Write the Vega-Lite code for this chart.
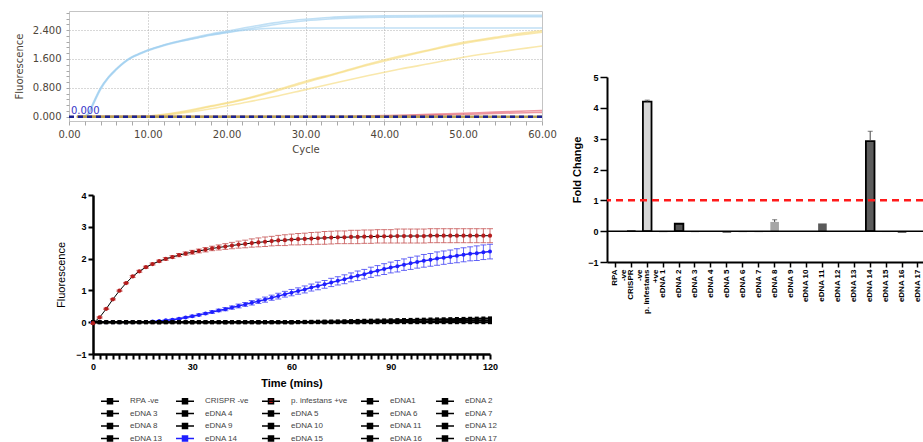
{
"$schema": "https://vega.github.io/schema/vega-lite/v6.json",
"padding": {"left": 13, "top": 7, "right": 0, "bottom": 0},
"config": {"font": "Liberation Sans", "view": {"stroke": null}, "axis": {"domainColor": "black", "tickColor": "black", "labelColor": "black", "titleColor": "black", "grid": false}},
"datasets": {
"qpcr": [
{"g":"pos","r":"b1","c":1,"v":0},{"g":"pos","r":"b1","c":2,"v":0.02},{"g":"pos","r":"b1","c":2.5,"v":0.1},{"g":"pos","r":"b1","c":3,"v":0.35},{"g":"pos","r":"b1","c":4,"v":0.8},{"g":"pos","r":"b1","c":5,"v":1.1},{"g":"pos","r":"b1","c":6,"v":1.33},{"g":"pos","r":"b1","c":7,"v":1.52},{"g":"pos","r":"b1","c":8,"v":1.66},{"g":"pos","r":"b1","c":9,"v":1.76},{"g":"pos","r":"b1","c":10,"v":1.85},{"g":"pos","r":"b1","c":12,"v":1.99},{"g":"pos","r":"b1","c":14,"v":2.1},{"g":"pos","r":"b1","c":16,"v":2.2},{"g":"pos","r":"b1","c":18,"v":2.29},{"g":"pos","r":"b1","c":20,"v":2.37},{"g":"pos","r":"b1","c":22,"v":2.45},{"g":"pos","r":"b1","c":24,"v":2.53},{"g":"pos","r":"b1","c":26,"v":2.6},{"g":"pos","r":"b1","c":28,"v":2.66},{"g":"pos","r":"b1","c":30,"v":2.7},{"g":"pos","r":"b1","c":33,"v":2.75},{"g":"pos","r":"b1","c":36,"v":2.78},{"g":"pos","r":"b1","c":40,"v":2.8},{"g":"pos","r":"b1","c":50,"v":2.81},{"g":"pos","r":"b1","c":60,"v":2.81},
{"g":"pos","r":"b2","c":1,"v":0},{"g":"pos","r":"b2","c":2,"v":0.02},{"g":"pos","r":"b2","c":2.5,"v":0.08},{"g":"pos","r":"b2","c":3,"v":0.3},{"g":"pos","r":"b2","c":4,"v":0.75},{"g":"pos","r":"b2","c":5,"v":1.07},{"g":"pos","r":"b2","c":6,"v":1.3},{"g":"pos","r":"b2","c":7,"v":1.5},{"g":"pos","r":"b2","c":8,"v":1.65},{"g":"pos","r":"b2","c":9,"v":1.75},{"g":"pos","r":"b2","c":10,"v":1.84},{"g":"pos","r":"b2","c":12,"v":1.98},{"g":"pos","r":"b2","c":14,"v":2.09},{"g":"pos","r":"b2","c":16,"v":2.18},{"g":"pos","r":"b2","c":18,"v":2.27},{"g":"pos","r":"b2","c":20,"v":2.34},{"g":"pos","r":"b2","c":22,"v":2.41},{"g":"pos","r":"b2","c":24,"v":2.48},{"g":"pos","r":"b2","c":26,"v":2.55},{"g":"pos","r":"b2","c":28,"v":2.61},{"g":"pos","r":"b2","c":30,"v":2.66},{"g":"pos","r":"b2","c":33,"v":2.71},{"g":"pos","r":"b2","c":36,"v":2.74},{"g":"pos","r":"b2","c":40,"v":2.76},{"g":"pos","r":"b2","c":50,"v":2.77},{"g":"pos","r":"b2","c":60,"v":2.77},
{"g":"pos","r":"b3","c":1,"v":0},{"g":"pos","r":"b3","c":2,"v":0.02},{"g":"pos","r":"b3","c":2.5,"v":0.09},{"g":"pos","r":"b3","c":3,"v":0.33},{"g":"pos","r":"b3","c":4,"v":0.78},{"g":"pos","r":"b3","c":5,"v":1.09},{"g":"pos","r":"b3","c":6,"v":1.32},{"g":"pos","r":"b3","c":7,"v":1.5},{"g":"pos","r":"b3","c":8,"v":1.64},{"g":"pos","r":"b3","c":9,"v":1.74},{"g":"pos","r":"b3","c":10,"v":1.83},{"g":"pos","r":"b3","c":12,"v":1.97},{"g":"pos","r":"b3","c":14,"v":2.08},{"g":"pos","r":"b3","c":16,"v":2.17},{"g":"pos","r":"b3","c":18,"v":2.26},{"g":"pos","r":"b3","c":20,"v":2.33},{"g":"pos","r":"b3","c":22,"v":2.39},{"g":"pos","r":"b3","c":24,"v":2.43},{"g":"pos","r":"b3","c":26,"v":2.45},{"g":"pos","r":"b3","c":30,"v":2.46},{"g":"pos","r":"b3","c":40,"v":2.46},{"g":"pos","r":"b3","c":60,"v":2.46},
{"g":"sample","r":"y1","c":1,"v":0},{"g":"sample","r":"y1","c":8,"v":0},{"g":"sample","r":"y1","c":10,"v":0.02},{"g":"sample","r":"y1","c":14,"v":0.13},{"g":"sample","r":"y1","c":18,"v":0.3},{"g":"sample","r":"y1","c":22,"v":0.48},{"g":"sample","r":"y1","c":26,"v":0.72},{"g":"sample","r":"y1","c":30,"v":0.98},{"g":"sample","r":"y1","c":34,"v":1.21},{"g":"sample","r":"y1","c":38,"v":1.46},{"g":"sample","r":"y1","c":42,"v":1.68},{"g":"sample","r":"y1","c":46,"v":1.87},{"g":"sample","r":"y1","c":50,"v":2.06},{"g":"sample","r":"y1","c":54,"v":2.2},{"g":"sample","r":"y1","c":58,"v":2.33},{"g":"sample","r":"y1","c":60,"v":2.38},
{"g":"sample","r":"y2","c":1,"v":0},{"g":"sample","r":"y2","c":8,"v":0},{"g":"sample","r":"y2","c":10,"v":0.02},{"g":"sample","r":"y2","c":14,"v":0.11},{"g":"sample","r":"y2","c":18,"v":0.28},{"g":"sample","r":"y2","c":22,"v":0.46},{"g":"sample","r":"y2","c":26,"v":0.69},{"g":"sample","r":"y2","c":30,"v":0.95},{"g":"sample","r":"y2","c":34,"v":1.19},{"g":"sample","r":"y2","c":38,"v":1.43},{"g":"sample","r":"y2","c":42,"v":1.65},{"g":"sample","r":"y2","c":46,"v":1.85},{"g":"sample","r":"y2","c":50,"v":2.03},{"g":"sample","r":"y2","c":54,"v":2.17},{"g":"sample","r":"y2","c":58,"v":2.29},{"g":"sample","r":"y2","c":60,"v":2.34},
{"g":"sample","r":"y3","c":1,"v":0},{"g":"sample","r":"y3","c":10,"v":0},{"g":"sample","r":"y3","c":14,"v":0.09},{"g":"sample","r":"y3","c":18,"v":0.22},{"g":"sample","r":"y3","c":22,"v":0.38},{"g":"sample","r":"y3","c":26,"v":0.55},{"g":"sample","r":"y3","c":30,"v":0.75},{"g":"sample","r":"y3","c":34,"v":0.95},{"g":"sample","r":"y3","c":38,"v":1.14},{"g":"sample","r":"y3","c":42,"v":1.32},{"g":"sample","r":"y3","c":46,"v":1.48},{"g":"sample","r":"y3","c":50,"v":1.65},{"g":"sample","r":"y3","c":54,"v":1.78},{"g":"sample","r":"y3","c":58,"v":1.9},{"g":"sample","r":"y3","c":60,"v":1.96},
{"g":"late","r":"r1","c":1,"v":0},{"g":"late","r":"r1","c":34,"v":0},{"g":"late","r":"r1","c":36,"v":0.01},{"g":"late","r":"r1","c":40,"v":0.03},{"g":"late","r":"r1","c":44,"v":0.05},{"g":"late","r":"r1","c":48,"v":0.08},{"g":"late","r":"r1","c":52,"v":0.11},{"g":"late","r":"r1","c":56,"v":0.14},{"g":"late","r":"r1","c":60,"v":0.17},
{"g":"late","r":"r2","c":1,"v":0},{"g":"late","r":"r2","c":38,"v":0},{"g":"late","r":"r2","c":42,"v":0.02},{"g":"late","r":"r2","c":46,"v":0.04},{"g":"late","r":"r2","c":50,"v":0.06},{"g":"late","r":"r2","c":54,"v":0.09},{"g":"late","r":"r2","c":58,"v":0.11},{"g":"late","r":"r2","c":60,"v":0.12}
],
"pinf": [
{"t":0,"y":-0.03,"e":0.02},{"t":2,"y":0.15,"e":0.02},{"t":4,"y":0.42,"e":0.02},{"t":6,"y":0.72,"e":0.02},{"t":8,"y":0.99,"e":0.02},{"t":10,"y":1.23,"e":0.02},{"t":12,"y":1.44,"e":0.03},{"t":14,"y":1.6,"e":0.03},{"t":16,"y":1.73,"e":0.03},{"t":18,"y":1.83,"e":0.03},{"t":20,"y":1.92,"e":0.03},{"t":22,"y":1.99,"e":0.04},{"t":24,"y":2.05,"e":0.04},{"t":26,"y":2.11,"e":0.05},{"t":28,"y":2.16,"e":0.05},{"t":30,"y":2.2,"e":0.06},{"t":32,"y":2.24,"e":0.06},{"t":34,"y":2.28,"e":0.07},{"t":36,"y":2.32,"e":0.07},{"t":38,"y":2.35,"e":0.08},{"t":40,"y":2.38,"e":0.09},{"t":42,"y":2.41,"e":0.1},{"t":44,"y":2.44,"e":0.11},{"t":46,"y":2.46,"e":0.12},{"t":48,"y":2.49,"e":0.13},{"t":50,"y":2.51,"e":0.14},{"t":52,"y":2.53,"e":0.15},{"t":54,"y":2.55,"e":0.15},{"t":56,"y":2.57,"e":0.16},{"t":58,"y":2.58,"e":0.17},{"t":60,"y":2.6,"e":0.17},{"t":62,"y":2.61,"e":0.18},{"t":64,"y":2.62,"e":0.18},{"t":66,"y":2.63,"e":0.19},{"t":68,"y":2.64,"e":0.19},{"t":70,"y":2.65,"e":0.2},{"t":72,"y":2.66,"e":0.2},{"t":74,"y":2.67,"e":0.2},{"t":76,"y":2.67,"e":0.2},{"t":78,"y":2.68,"e":0.21},{"t":80,"y":2.68,"e":0.21},{"t":82,"y":2.69,"e":0.21},{"t":84,"y":2.69,"e":0.21},{"t":86,"y":2.7,"e":0.21},{"t":88,"y":2.7,"e":0.21},{"t":90,"y":2.7,"e":0.21},{"t":92,"y":2.71,"e":0.22},{"t":94,"y":2.71,"e":0.22},{"t":96,"y":2.71,"e":0.22},{"t":98,"y":2.71,"e":0.22},{"t":100,"y":2.71,"e":0.22},{"t":102,"y":2.72,"e":0.22},{"t":104,"y":2.72,"e":0.22},{"t":106,"y":2.72,"e":0.22},{"t":108,"y":2.72,"e":0.22},{"t":110,"y":2.72,"e":0.22},{"t":112,"y":2.72,"e":0.22},{"t":114,"y":2.72,"e":0.22},{"t":116,"y":2.72,"e":0.22},{"t":118,"y":2.72,"e":0.22},{"t":120,"y":2.72,"e":0.22}
],
"e14": [
{"t":0,"y":0,"e":0},{"t":2,"y":0,"e":0},{"t":4,"y":0,"e":0},{"t":6,"y":0,"e":0},{"t":8,"y":0,"e":0},{"t":10,"y":0,"e":0},{"t":12,"y":0,"e":0},{"t":14,"y":0,"e":0},{"t":16,"y":0.01,"e":0.01},{"t":18,"y":0.02,"e":0.01},{"t":20,"y":0.04,"e":0.01},{"t":22,"y":0.06,"e":0.01},{"t":24,"y":0.08,"e":0.02},{"t":26,"y":0.11,"e":0.02},{"t":28,"y":0.15,"e":0.02},{"t":30,"y":0.19,"e":0.03},{"t":32,"y":0.23,"e":0.03},{"t":34,"y":0.27,"e":0.03},{"t":36,"y":0.32,"e":0.04},{"t":38,"y":0.37,"e":0.04},{"t":40,"y":0.41,"e":0.05},{"t":42,"y":0.46,"e":0.05},{"t":44,"y":0.51,"e":0.06},{"t":46,"y":0.56,"e":0.06},{"t":48,"y":0.61,"e":0.07},{"t":50,"y":0.66,"e":0.07},{"t":52,"y":0.71,"e":0.08},{"t":54,"y":0.77,"e":0.08},{"t":56,"y":0.82,"e":0.09},{"t":58,"y":0.88,"e":0.09},{"t":60,"y":0.93,"e":0.1},{"t":62,"y":0.98,"e":0.1},{"t":64,"y":1.03,"e":0.11},{"t":66,"y":1.09,"e":0.11},{"t":68,"y":1.14,"e":0.12},{"t":70,"y":1.19,"e":0.12},{"t":72,"y":1.25,"e":0.13},{"t":74,"y":1.3,"e":0.13},{"t":76,"y":1.35,"e":0.14},{"t":78,"y":1.41,"e":0.14},{"t":80,"y":1.46,"e":0.15},{"t":82,"y":1.51,"e":0.15},{"t":84,"y":1.57,"e":0.16},{"t":86,"y":1.62,"e":0.16},{"t":88,"y":1.67,"e":0.17},{"t":90,"y":1.72,"e":0.17},{"t":92,"y":1.76,"e":0.18},{"t":94,"y":1.81,"e":0.18},{"t":96,"y":1.85,"e":0.19},{"t":98,"y":1.89,"e":0.19},{"t":100,"y":1.93,"e":0.2},{"t":102,"y":1.96,"e":0.2},{"t":104,"y":2.0,"e":0.21},{"t":106,"y":2.03,"e":0.21},{"t":108,"y":2.06,"e":0.21},{"t":110,"y":2.09,"e":0.22},{"t":112,"y":2.12,"e":0.22},{"t":114,"y":2.15,"e":0.22},{"t":116,"y":2.17,"e":0.23},{"t":118,"y":2.2,"e":0.23},{"t":120,"y":2.22,"e":0.23}
],
"neg": [
{"s":"RPA -ve","t":0,"y":0},{"s":"RPA -ve","t":2,"y":0},{"s":"RPA -ve","t":4,"y":0},{"s":"RPA -ve","t":6,"y":0},{"s":"RPA -ve","t":8,"y":0},{"s":"RPA -ve","t":10,"y":0},{"s":"RPA -ve","t":12,"y":0},{"s":"RPA -ve","t":14,"y":0},{"s":"RPA -ve","t":16,"y":0},{"s":"RPA -ve","t":18,"y":0},{"s":"RPA -ve","t":20,"y":0},{"s":"RPA -ve","t":22,"y":0},{"s":"RPA -ve","t":24,"y":0},{"s":"RPA -ve","t":26,"y":0},{"s":"RPA -ve","t":28,"y":0},{"s":"RPA -ve","t":30,"y":0},{"s":"RPA -ve","t":32,"y":0},{"s":"RPA -ve","t":34,"y":0},{"s":"RPA -ve","t":36,"y":0},{"s":"RPA -ve","t":38,"y":0},{"s":"RPA -ve","t":40,"y":0},{"s":"RPA -ve","t":42,"y":0},{"s":"RPA -ve","t":44,"y":0},{"s":"RPA -ve","t":46,"y":0},{"s":"RPA -ve","t":48,"y":0},{"s":"RPA -ve","t":50,"y":0},{"s":"RPA -ve","t":52,"y":0},{"s":"RPA -ve","t":54,"y":0},{"s":"RPA -ve","t":56,"y":0},{"s":"RPA -ve","t":58,"y":0},{"s":"RPA -ve","t":60,"y":0},{"s":"RPA -ve","t":62,"y":0},{"s":"RPA -ve","t":64,"y":0},{"s":"RPA -ve","t":66,"y":0},{"s":"RPA -ve","t":68,"y":0},{"s":"RPA -ve","t":70,"y":0},{"s":"RPA -ve","t":72,"y":0},{"s":"RPA -ve","t":74,"y":0},{"s":"RPA -ve","t":76,"y":0},{"s":"RPA -ve","t":78,"y":0},{"s":"RPA -ve","t":80,"y":0},{"s":"RPA -ve","t":82,"y":0},{"s":"RPA -ve","t":84,"y":0},{"s":"RPA -ve","t":86,"y":0},{"s":"RPA -ve","t":88,"y":0},{"s":"RPA -ve","t":90,"y":0},{"s":"RPA -ve","t":92,"y":0},{"s":"RPA -ve","t":94,"y":0},{"s":"RPA -ve","t":96,"y":0},{"s":"RPA -ve","t":98,"y":0},{"s":"RPA -ve","t":100,"y":0},{"s":"RPA -ve","t":102,"y":0},{"s":"RPA -ve","t":104,"y":0},{"s":"RPA -ve","t":106,"y":0},{"s":"RPA -ve","t":108,"y":0},{"s":"RPA -ve","t":110,"y":0},{"s":"RPA -ve","t":112,"y":0},{"s":"RPA -ve","t":114,"y":0},{"s":"RPA -ve","t":116,"y":0},{"s":"RPA -ve","t":118,"y":0},{"s":"RPA -ve","t":120,"y":0},
{"s":"eDNA 16","t":0,"y":0},{"s":"eDNA 16","t":2,"y":0},{"s":"eDNA 16","t":4,"y":0},{"s":"eDNA 16","t":6,"y":0},{"s":"eDNA 16","t":8,"y":0},{"s":"eDNA 16","t":10,"y":0},{"s":"eDNA 16","t":12,"y":0},{"s":"eDNA 16","t":14,"y":0},{"s":"eDNA 16","t":16,"y":0},{"s":"eDNA 16","t":18,"y":0},{"s":"eDNA 16","t":20,"y":0},{"s":"eDNA 16","t":22,"y":0},{"s":"eDNA 16","t":24,"y":0},{"s":"eDNA 16","t":26,"y":0},{"s":"eDNA 16","t":28,"y":0},{"s":"eDNA 16","t":30,"y":0},{"s":"eDNA 16","t":32,"y":0},{"s":"eDNA 16","t":34,"y":0},{"s":"eDNA 16","t":36,"y":0},{"s":"eDNA 16","t":38,"y":0},{"s":"eDNA 16","t":40,"y":0},{"s":"eDNA 16","t":42,"y":0},{"s":"eDNA 16","t":44,"y":0},{"s":"eDNA 16","t":46,"y":0},{"s":"eDNA 16","t":48,"y":0},{"s":"eDNA 16","t":50,"y":0},{"s":"eDNA 16","t":52,"y":0},{"s":"eDNA 16","t":54,"y":0},{"s":"eDNA 16","t":56,"y":0},{"s":"eDNA 16","t":58,"y":0},{"s":"eDNA 16","t":60,"y":0},{"s":"eDNA 16","t":62,"y":0.005},{"s":"eDNA 16","t":64,"y":0.01},{"s":"eDNA 16","t":66,"y":0.012},{"s":"eDNA 16","t":68,"y":0.015},{"s":"eDNA 16","t":70,"y":0.02},{"s":"eDNA 16","t":72,"y":0.022},{"s":"eDNA 16","t":74,"y":0.025},{"s":"eDNA 16","t":76,"y":0.03},{"s":"eDNA 16","t":78,"y":0.035},{"s":"eDNA 16","t":80,"y":0.04},{"s":"eDNA 16","t":82,"y":0.045},{"s":"eDNA 16","t":84,"y":0.048},{"s":"eDNA 16","t":86,"y":0.052},{"s":"eDNA 16","t":88,"y":0.056},{"s":"eDNA 16","t":90,"y":0.06},{"s":"eDNA 16","t":92,"y":0.065},{"s":"eDNA 16","t":94,"y":0.068},{"s":"eDNA 16","t":96,"y":0.072},{"s":"eDNA 16","t":98,"y":0.076},{"s":"eDNA 16","t":100,"y":0.08},{"s":"eDNA 16","t":102,"y":0.085},{"s":"eDNA 16","t":104,"y":0.088},{"s":"eDNA 16","t":106,"y":0.092},{"s":"eDNA 16","t":108,"y":0.096},{"s":"eDNA 16","t":110,"y":0.1},{"s":"eDNA 16","t":112,"y":0.104},{"s":"eDNA 16","t":114,"y":0.108},{"s":"eDNA 16","t":116,"y":0.112},{"s":"eDNA 16","t":118,"y":0.116},{"s":"eDNA 16","t":120,"y":0.12},
{"s":"eDNA 5","t":0,"y":0},{"s":"eDNA 5","t":10,"y":0},{"s":"eDNA 5","t":20,"y":0},{"s":"eDNA 5","t":30,"y":0},{"s":"eDNA 5","t":40,"y":0},{"s":"eDNA 5","t":50,"y":0},{"s":"eDNA 5","t":60,"y":0},{"s":"eDNA 5","t":70,"y":0},{"s":"eDNA 5","t":80,"y":0},{"s":"eDNA 5","t":84,"y":0.004},{"s":"eDNA 5","t":88,"y":0.008},{"s":"eDNA 5","t":92,"y":0.013},{"s":"eDNA 5","t":96,"y":0.019},{"s":"eDNA 5","t":100,"y":0.025},{"s":"eDNA 5","t":104,"y":0.031},{"s":"eDNA 5","t":108,"y":0.037},{"s":"eDNA 5","t":112,"y":0.043},{"s":"eDNA 5","t":116,"y":0.05},{"s":"eDNA 5","t":120,"y":0.056}
],
"fold": [
{"k":"RPA -ve","v":0},{"k":"CRISPR -ve","v":0.03},{"k":"p. infestans +ve","v":4.2,"hi":4.25},{"k":"eDNA 1","v":-0.03},{"k":"eDNA 2","v":0.24},{"k":"eDNA 3","v":-0.03},{"k":"eDNA 4","v":-0.01},{"k":"eDNA 5","v":-0.05},{"k":"eDNA 6","v":-0.03},{"k":"eDNA 7","v":-0.03},{"k":"eDNA 8","v":0.3,"hi":0.37},{"k":"eDNA 9","v":-0.02},{"k":"eDNA 10","v":-0.02},{"k":"eDNA 11","v":0.25},{"k":"eDNA 12","v":-0.02},{"k":"eDNA 13","v":-0.02},{"k":"eDNA 14","v":2.92,"hi":3.24},{"k":"eDNA 15","v":-0.03},{"k":"eDNA 16","v":-0.05},{"k":"eDNA 17","v":-0.02}
]
},
"columns": 2,
"spacing": 14,
"concat": [
{
"columns": 1,
"spacing": 36,
"concat": [
{
"width": 473, "height": 110,
"view": {"stroke": "#c4c4c4", "strokeWidth": 1},
"layer": [
{"data": {"name": "qpcr"},
 "mark": {"type": "line", "strokeWidth": 1.6, "opacity": 0.65, "interpolate": "monotone"},
 "encoding": {
  "x": {"field": "c", "type": "quantitative", "scale": {"domain": [0, 60], "nice": false},
   "axis": {"values": [0,2,4,6,8,10,12,14,16,18,20,22,24,26,28,30,32,34,36,38,40,42,44,46,48,50,52,54,56,58,60], "tickCount": 500,
    "labelExpr": "datum.value % 10 == 0 ? format(datum.value, '.2f') : ''",
    "labelOverlap": false, "labelFlush": false, "title": "Cycle",
    "grid": true, "gridDash": [1, 2], "gridColor": "#b0b0b0",
    "gridOpacity": {"condition": {"test": "datum.value % 10 == 0 && datum.value > 0 && datum.value < 60", "value": 1}, "value": 0},
    "domain": false, "tickSize": 4, "tickColor": "#a8a8a8",
    "labelFont": "DejaVu Sans", "labelFontSize": 10, "labelColor": "#4d4539", "labelPadding": 4,
    "titleFont": "DejaVu Sans", "titleFontSize": 10, "titleFontWeight": "normal", "titleColor": "#4d4539", "titlePadding": 5}},
  "y": {"field": "v", "type": "quantitative", "scale": {"domain": [-0.12, 2.93], "nice": false, "zero": false},
   "axis": {"values": [0,0.16,0.32,0.48,0.64,0.8,0.96,1.12,1.28,1.44,1.6,1.76,1.92,2.08,2.24,2.4,2.56,2.72,2.88], "tickCount": 500,
    "labelExpr": "abs(datum.value/0.8 - round(datum.value/0.8)) < 0.001 ? format(datum.value, '.3f') : ''",
    "labelOverlap": false, "labelFlush": false, "title": "Fluorescence",
    "grid": true, "gridDash": [1, 2], "gridColor": "#b0b0b0",
    "gridOpacity": {"condition": {"test": "abs(datum.value/0.8 - round(datum.value/0.8)) < 0.001 && datum.value > 0", "value": 1}, "value": 0},
    "domain": false, "tickSize": 3, "tickColor": "#a8a8a8",
    "labelFont": "DejaVu Sans", "labelFontSize": 10, "labelColor": "#4d4539", "labelPadding": 5,
    "titleFont": "DejaVu Sans", "titleFontSize": 10, "titleFontWeight": "normal", "titleColor": "#4d4539", "titlePadding": 8}},
  "stroke": {"field": "g", "type": "nominal", "scale": {"domain": ["pos", "sample", "late"], "range": ["#9fd0ef", "#f6dc80", "#e4606e"]}, "legend": null},
  "detail": {"field": "r"}
 }},
{"data": {"values": [{"c": 1, "v": 0}, {"c": 60, "v": 0}]},
 "mark": {"type": "line", "color": "#b5a055", "strokeWidth": 2.5},
 "encoding": {"x": {"field": "c", "type": "quantitative"}, "y": {"field": "v", "type": "quantitative"}}},
{"data": {"values": [{"c": 0, "v": 0}, {"c": 60, "v": 0}]},
 "mark": {"type": "line", "color": "#1c2390", "strokeWidth": 2.5, "strokeDash": [5, 4]},
 "encoding": {"x": {"field": "c", "type": "quantitative"}, "y": {"field": "v", "type": "quantitative"}}},
{"data": {"values": [{"c": 0.25, "v": 0, "label": "0.000"}]},
 "mark": {"type": "text", "align": "left", "baseline": "bottom", "dy": -1, "font": "DejaVu Sans", "fontSize": 10, "color": "#3636c8"},
 "encoding": {"x": {"field": "c", "type": "quantitative"}, "y": {"field": "v", "type": "quantitative"}, "text": {"field": "label"}}}
]
},
{
"width": 421, "height": 159,
"layer": [
{"data": {"name": "pinf"},
 "mark": {"type": "errorbar", "color": "#c85a5a", "opacity": 0.85, "ticks": {"size": 6, "color": "#c85a5a"}},
 "encoding": {
  "x": {"field": "t", "type": "quantitative", "title": "Time (mins)", "scale": {"domain": [0, 120], "range": [24, 421], "nice": false},
   "axis": {"values": [0,2,4,6,8,10,12,14,16,18,20,22,24,26,28,30,32,34,36,38,40,42,44,46,48,50,52,54,56,58,60,62,64,66,68,70,72,74,76,78,80,82,84,86,88,90,92,94,96,98,100,102,104,106,108,110,112,114,116,118,120], "tickCount": 500,
    "labelExpr": "datum.value % 30 == 0 ? format(datum.value, 'd') : ''", "labelOverlap": false, "labelFlush": false,
    "tickSize": 5, "tickWidth": 2, "domainWidth": 2.5,
    "labelFontWeight": "bold", "labelFontSize": 9, "labelPadding": 3,
    "titleFontSize": 11, "titleFontWeight": "bold", "titlePadding": 6}},
  "y": {"field": "y", "type": "quantitative", "title": "Fluorescence", "scale": {"domain": [-1, 4], "nice": false, "zero": false},
   "axis": {"values": [-1, 0, 1, 2, 3, 4], "tickCount": 500, "format": "d", "offset": -24, "labelOverlap": false,
    "tickSize": 5, "tickWidth": 2, "domainWidth": 2.5, "labelFontWeight": "bold", "labelFontSize": 9, "labelPadding": 2,
    "titleFontSize": 11, "titleFontWeight": "normal", "titlePadding": 9}},
  "yError": {"field": "e"}
 }},
{"data": {"name": "e14"},
 "mark": {"type": "errorbar", "color": "#4a4af5", "opacity": 0.85, "ticks": {"size": 6, "color": "#4a4af5"}},
 "encoding": {"x": {"field": "t", "type": "quantitative", "title": "Time (mins)"}, "y": {"field": "y", "type": "quantitative", "title": "Fluorescence"}, "yError": {"field": "e"}}},
{"data": {"name": "e14"},
 "mark": {"type": "line", "color": "#1f1fff", "strokeWidth": 1.5},
 "encoding": {"x": {"field": "t", "type": "quantitative", "title": "Time (mins)"}, "y": {"field": "y", "type": "quantitative", "title": "Fluorescence"}}},
{"data": {"name": "e14"},
 "mark": {"type": "point", "filled": true, "size": 16, "opacity": 1, "shape": "circle"},
 "encoding": {"x": {"field": "t", "type": "quantitative", "title": "Time (mins)"}, "y": {"field": "y", "type": "quantitative", "title": "Fluorescence"},
  "color": {"datum": "eDNA 14",
   "scale": {"domain": ["RPA -ve", "CRISPR -ve", "p. infestans +ve", "eDNA1", "eDNA 2", "eDNA 3", "eDNA 4", "eDNA 5", "eDNA 6", "eDNA 7", "eDNA 8", "eDNA 9", "eDNA 10", "eDNA 11", "eDNA 12", "eDNA 13", "eDNA 14", "eDNA 15", "eDNA 16", "eDNA 17"],
    "range": ["#000000", "#000000", "#b51c1c", "#000000", "#000000", "#000000", "#000000", "#000000", "#000000", "#000000", "#000000", "#000000", "#000000", "#000000", "#000000", "#000000", "#1f1fff", "#000000", "#000000", "#000000"]},
   "legend": {"orient": "none", "direction": "horizontal", "legendX": 35, "legendY": 384, "columns": 5, "title": null, "padding": 0,
    "symbolType": "M-1.8,0H1.8M-0.5,-0.5H0.5V0.5H-0.5Z", "symbolSize": 100, "symbolStrokeWidth": 1.5, "symbolOpacity": 1,
    "labelFont": "Liberation Sans", "labelFontSize": 8, "labelColor": "#444444", "labelOffset": 14, "labelLimit": 120,
    "rowPadding": 0.5, "columnPadding": 10, "gridAlign": "each",
    "encode": {"symbols": {"update": {"stroke": {"signal": "datum.value === 'eDNA 14' ? '#1f1fff' : 'black'"}, "strokeWidth": {"value": 1.5}}}}}
  }}},
{"data": {"name": "neg"},
 "mark": {"type": "line", "color": "black", "strokeWidth": 2},
 "encoding": {"x": {"field": "t", "type": "quantitative", "title": "Time (mins)"}, "y": {"field": "y", "type": "quantitative", "title": "Fluorescence"}, "detail": {"field": "s"}}},
{"data": {"name": "neg"},
 "mark": {"type": "point", "filled": true, "size": 16, "opacity": 1, "shape": "square", "color": "black"},
 "encoding": {"x": {"field": "t", "type": "quantitative", "title": "Time (mins)"}, "y": {"field": "y", "type": "quantitative", "title": "Fluorescence"}}},
{"data": {"name": "pinf"},
 "mark": {"type": "line", "color": "black", "strokeWidth": 1},
 "encoding": {"x": {"field": "t", "type": "quantitative", "title": "Time (mins)"}, "y": {"field": "y", "type": "quantitative", "title": "Fluorescence"}}},
{"data": {"name": "pinf"},
 "mark": {"type": "point", "filled": true, "size": 18, "opacity": 1, "shape": "circle"},
 "encoding": {"x": {"field": "t", "type": "quantitative", "title": "Time (mins)"}, "y": {"field": "y", "type": "quantitative", "title": "Fluorescence"}, "color": {"datum": "p. infestans +ve"}}}
]
}
]
},
{
"width": 316, "height": 251,
"data": {"name": "fold"},
"layer": [
{"mark": {"type": "bar", "stroke": "black"},
 "encoding": {
  "x": {"field": "k", "type": "nominal", "sort": null,
   "scale": {"domain": ["RPA -ve", "CRISPR -ve", "p. infestans +ve", "eDNA 1", "eDNA 2", "eDNA 3", "eDNA 4", "eDNA 5", "eDNA 6", "eDNA 7", "eDNA 8", "eDNA 9", "eDNA 10", "eDNA 11", "eDNA 12", "eDNA 13", "eDNA 14", "eDNA 15", "eDNA 16", "eDNA 17"], "paddingInner": 0.46, "paddingOuter": 0.15, "align": 0.85},
   "axis": {"title": null, "labelAngle": 270, "labelFontSize": 8, "labelFontWeight": "bold", "labelPadding": 2,
    "tickSize": 5, "tickWidth": 1.5, "domainWidth": 2, "labelLimit": 0, "labelLineHeight": 9,
    "labelExpr": "indexof(datum.label, 'eDNA') == 0 ? datum.label : [slice(datum.label, 0, -4), slice(datum.label, -3)]"}},
  "y": {"field": "v", "type": "quantitative", "scale": {"domain": [-1, 5], "range": [251, 66], "nice": false, "zero": false},
   "axis": {"values": [-1, 0, 1, 2, 3, 4, 5], "tickCount": 500, "format": "d", "title": "Fold Change", "titleFontSize": 11, "titleFontWeight": "bold", "titlePadding": 5,
    "labelFontSize": 9, "labelFontWeight": "bold", "labelPadding": 2, "tickSize": 7, "tickWidth": 1.5, "domainWidth": 2}},
  "fill": {"field": "k", "type": "nominal",
   "scale": {"domain": ["RPA -ve", "CRISPR -ve", "p. infestans +ve", "eDNA 1", "eDNA 2", "eDNA 3", "eDNA 4", "eDNA 5", "eDNA 6", "eDNA 7", "eDNA 8", "eDNA 9", "eDNA 10", "eDNA 11", "eDNA 12", "eDNA 13", "eDNA 14", "eDNA 15", "eDNA 16", "eDNA 17"],
    "range": ["#333333", "#333333", "#d6d6d6", "#333333", "#555555", "#333333", "#888888", "#444444", "#444444", "#444444", "#a6a6a6", "#777777", "#cccccc", "#5a5a5a", "#444444", "#444444", "#5c5c5c", "#bbbbbb", "#333333", "#444444"]},
   "legend": null},
  "strokeWidth": {"condition": {"test": "indexof(['p. infestans +ve', 'eDNA 2', 'eDNA 14'], datum.k) >= 0", "value": 1.8}, "value": 0}
 }},
{"transform": [{"filter": "isValid(datum.hi)"}],
 "mark": {"type": "rule", "color": "#444444", "strokeWidth": 1},
 "encoding": {"x": {"field": "k", "type": "nominal", "sort": null}, "y": {"field": "v", "type": "quantitative"}, "y2": {"field": "hi"}}},
{"transform": [{"filter": "isValid(datum.hi)"}],
 "mark": {"type": "tick", "color": "#444444", "thickness": 1, "size": 5},
 "encoding": {"x": {"field": "k", "type": "nominal", "sort": null}, "y": {"field": "hi", "type": "quantitative"}}},
{"data": {"values": [{"base": 0}]},
 "mark": {"type": "rule", "color": "black", "strokeWidth": 1.5},
 "encoding": {"y": {"field": "base", "type": "quantitative"}}},
{"data": {"values": [{"thr": 1}]},
 "mark": {"type": "rule", "color": "#ff1a1a", "strokeWidth": 2.5, "strokeDash": [7, 5]},
 "encoding": {"y": {"field": "thr", "type": "quantitative"}}}
]
}
]
}
